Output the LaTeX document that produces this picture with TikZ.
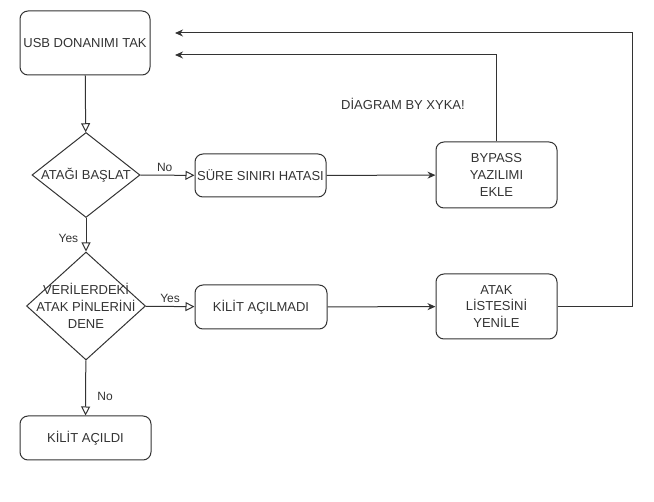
\documentclass[tikz,border=0pt]{standalone}
\usepackage{fontspec}
\setmainfont{Liberation Sans}
\usetikzlibrary{shapes.geometric,arrows.meta}
\definecolor{ink}{HTML}{333333}
\tikzset{
  box/.style={draw=ink, text=ink, rounded corners=8pt, line width=1pt, align=center,
    font=\fontsize{13}{16.7}\selectfont, inner sep=0pt},
  decision/.style={draw=ink, diamond, line width=1pt, inner sep=0pt},
  inside/.style={text=ink, align=center, font=\fontsize{13}{16.7}\selectfont},
  lbl/.style={text=ink, font=\fontsize{12}{14}\selectfont},
  flow/.style={draw=ink, line width=1pt, -{Triangle[open,length=9pt,width=9pt]}},
  back/.style={draw=ink, line width=1pt, -{Stealth[length=8pt,width=7pt]}},
}
\begin{document}
\begin{tikzpicture}[x=1pt, y=-1pt]
	\useasboundingbox (0,0) rectangle (654,502);
	% left column
	\node[box, minimum width=130pt, minimum height=64pt]       (usb)    at (85,43)    {USB DONANIMI TAK};
	\node[decision, minimum width=108pt, minimum height=85pt]  (basla)  at (86,175)   {};
	\node[inside] at (basla) {ATAĞI BAŞLAT};
	\node[decision, minimum width=119pt, minimum height=108pt] (dene)   at (86,306)   {};
	\node[inside] at (dene) {VERİLERDEKİ\\ATAK PİNLERİNİ\\DENE};
	\node[box, minimum width=131pt, minimum height=44pt]       (acildi) at (85.5,438) {KİLİT AÇILDI};
	% middle column
	\node[box, minimum width=131pt, minimum height=43pt]       (sure)   at (260.5,175.5) {SÜRE SINIRI HATASI};
	\node[box, minimum width=132pt, minimum height=44pt]       (acilma) at (261,307)  {KİLİT AÇILMADI};
	% right column
	\node[box, minimum width=121pt, minimum height=66pt]       (bypass) at (496.5,175) {BYPASS\\YAZILIMI\\EKLE};
	\node[box, minimum width=121pt, minimum height=65pt]       (atak)   at (496.5,306.5) {ATAK\\LİSTESİNİ\\YENİLE};
	\node[inside] (imza) at (403,104) {DİAGRAM BY XYKA!};
	% return ends
	\coordinate (don1) at (175,33);
	\coordinate (don2) at (175,55);
	% connectors
	\draw[flow] (usb) -- (basla);
	\draw[flow] (basla) -- node[lbl, above, pos=.45] {No} (sure);
	\draw[flow] (basla) -- node[lbl, left=4pt, pos=.6] {Yes} (dene);
	\draw[flow] (dene) -- node[lbl, above, pos=.5] {Yes} (acilma);
	\draw[flow] (dene) -- node[lbl, right=8pt, pos=.65] {No} (acildi);
	\draw[back] (sure) -- (bypass);
	\draw[back] (acilma) -- (atak);
	\draw[back] (bypass.north) |- (don2);
	\draw[back] (atak.east) -| (632,33) -- (don1);
\end{tikzpicture}
\end{document}
